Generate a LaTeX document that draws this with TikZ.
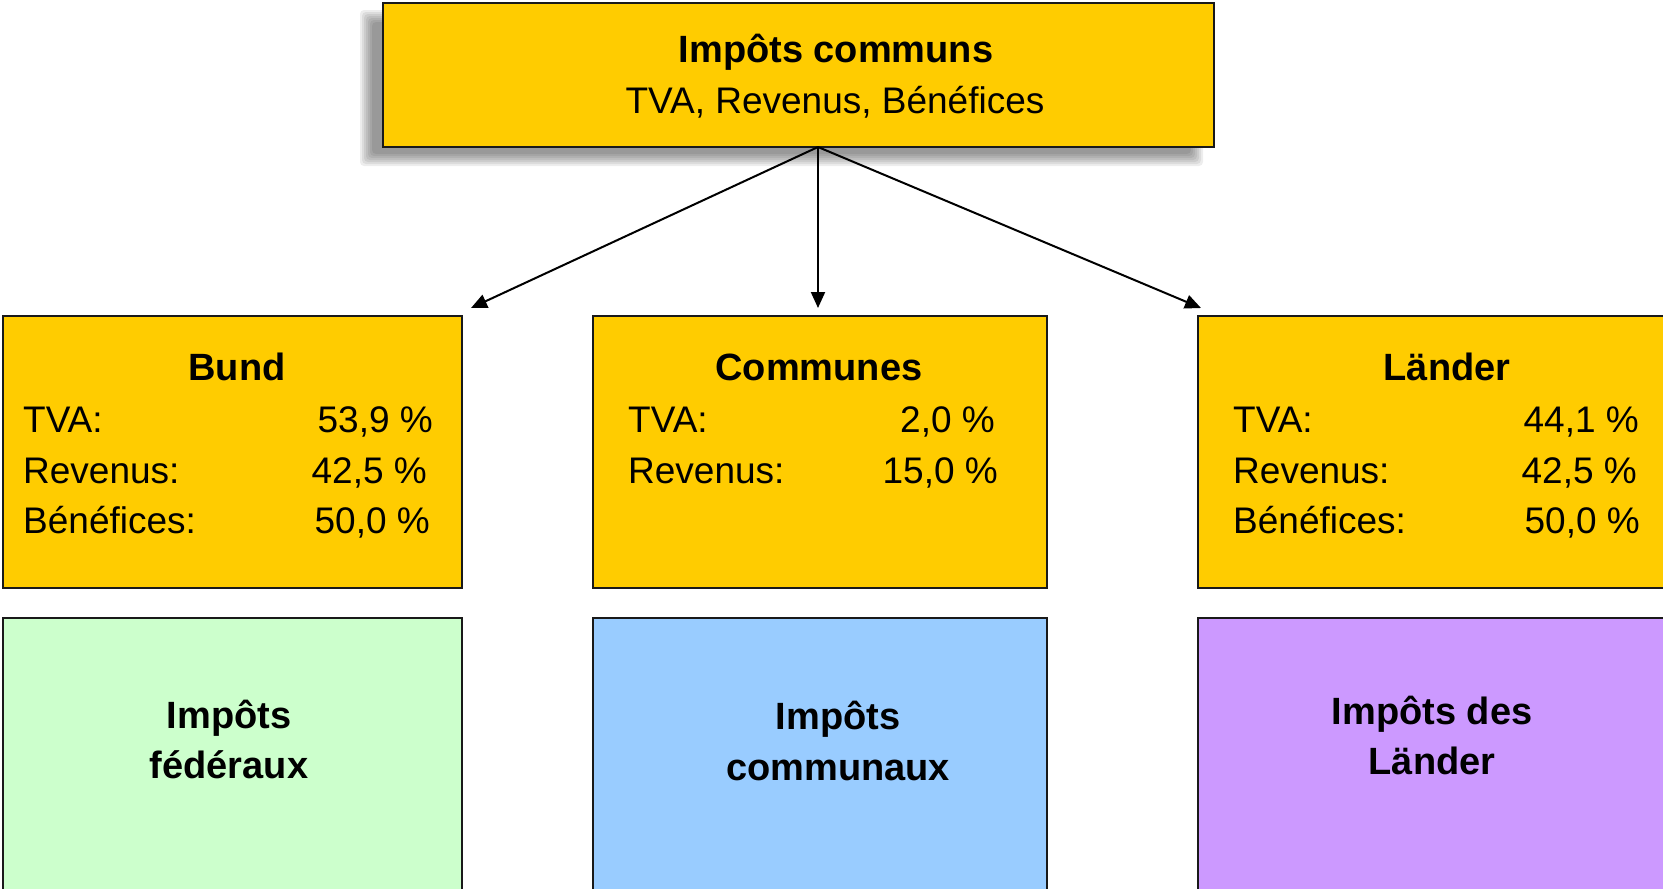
\documentclass[tikz,border=0pt]{standalone}
\usepackage{fontspec}
\setmainfont{Liberation Sans}
\usetikzlibrary{arrows.meta}
\definecolor{ygold}{HTML}{FFCC00}
\definecolor{pgreen}{HTML}{CCFFCC}
\definecolor{pblue}{HTML}{99CCFF}
\definecolor{ppurple}{HTML}{CC99FF}
\tikzset{
  boxshape/.style={draw=black!90, line width=1.6pt, inner sep=0pt, anchor=north west},
  ybox/.style={boxshape, fill=ygold},
  txt/.style={inner sep=0pt, font=\fontsize{37}{44}\selectfont},
  btxt/.style={inner sep=0pt, font=\fontsize{38}{46}\selectfont\bfseries},
  conn/.style={line width=2pt, -{Triangle[length=16pt,width=14pt]}}
}
\begin{document}
\begin{tikzpicture}[x=1pt,y=-1pt]
\useasboundingbox (0,0) rectangle (1663,889);
\clip (0,0) rectangle (1663,889);
% blurred shadow of the top box
\foreach \d in {-6,-4,...,6}{
  \fill[black, opacity=0.07, rounded corners=4pt] (366+\d,16+\d) rectangle (1197-\d,160-\d);
}
% top box
\node[ybox, minimum width=831pt, minimum height=144pt] (top) at (382,2) {};
\node[btxt, anchor=base] (toptitle) at (836,62) {Impôts communs};
\node[txt, anchor=base] (topsub) at (835,113) {TVA, Revenus, Bénéfices};
% middle boxes
\node[ybox, minimum width=459pt, minimum height=272pt] (bund) at (2,315) {};
\node[ybox, minimum width=454pt, minimum height=272pt] (communes) at (592,315) {};
\node[ybox, minimum width=480pt, minimum height=272pt] (laender) at (1197,315) {};
% arrows
\coordinate (src) at (818,147);
\coordinate (tb) at (471,308);
\coordinate (tc) at (818,308);
\coordinate (tl) at (1201,308);
\draw[conn] (src) -- (tb);
\draw[conn] (src) -- (tc);
\draw[conn] (src) -- (tl);
% Bund text
\node[btxt, anchor=base] (bundt) at (237,380) {Bund};
\node[txt, anchor=base west] (b1) at (23,432) {TVA:};
\node[txt, anchor=base west] (b2) at (23,483) {Revenus:};
\node[txt, anchor=base west] (b3) at (23,533) {Bénéfices:};
\node[txt, anchor=base east] (b1v) at (433,432) {53,9 \%};
\node[txt, anchor=base east] (b2v) at (427,483) {42,5 \%};
\node[txt, anchor=base east] (b3v) at (430,533) {50,0 \%};
% Communes text
\node[btxt, anchor=base] (comt) at (819,380) {Communes};
\node[txt, anchor=base west] (c1) at (628,432) {TVA:};
\node[txt, anchor=base west] (c2) at (628,483) {Revenus:};
\node[txt, anchor=base east] (c1v) at (995,432) {2,0 \%};
\node[txt, anchor=base east] (c2v) at (998,483) {15,0 \%};
% Laender text
\node[btxt, anchor=base] (lt) at (1447,380) {Länder};
\node[txt, anchor=base west] (l1) at (1233,432) {TVA:};
\node[txt, anchor=base west] (l2) at (1233,483) {Revenus:};
\node[txt, anchor=base west] (l3) at (1233,533) {Bénéfices:};
\node[txt, anchor=base east] (l1v) at (1639,432) {44,1 \%};
\node[txt, anchor=base east] (l2v) at (1637,483) {42,5 \%};
\node[txt, anchor=base east] (l3v) at (1640,533) {50,0 \%};
% bottom boxes
\node[boxshape, fill=pgreen, minimum width=459pt, minimum height=290pt] (fed) at (2,617) {};
\node[boxshape, fill=pblue, minimum width=454pt, minimum height=290pt] (com) at (592,617) {};
\node[boxshape, fill=ppurple, minimum width=480pt, minimum height=290pt] (lan) at (1197,617) {};
\node[btxt, anchor=base] (fed1) at (229,728) {Impôts};
\node[btxt, anchor=base] (fed2) at (229,778) {fédéraux};
\node[btxt, anchor=base] (com1) at (838,729) {Impôts};
\node[btxt, anchor=base] (com2) at (838,780) {communaux};
\node[btxt, anchor=base] (lan1) at (1432,724) {Impôts des};
\node[btxt, anchor=base] (lan2) at (1432,774) {Länder};
\end{tikzpicture}
\end{document}
